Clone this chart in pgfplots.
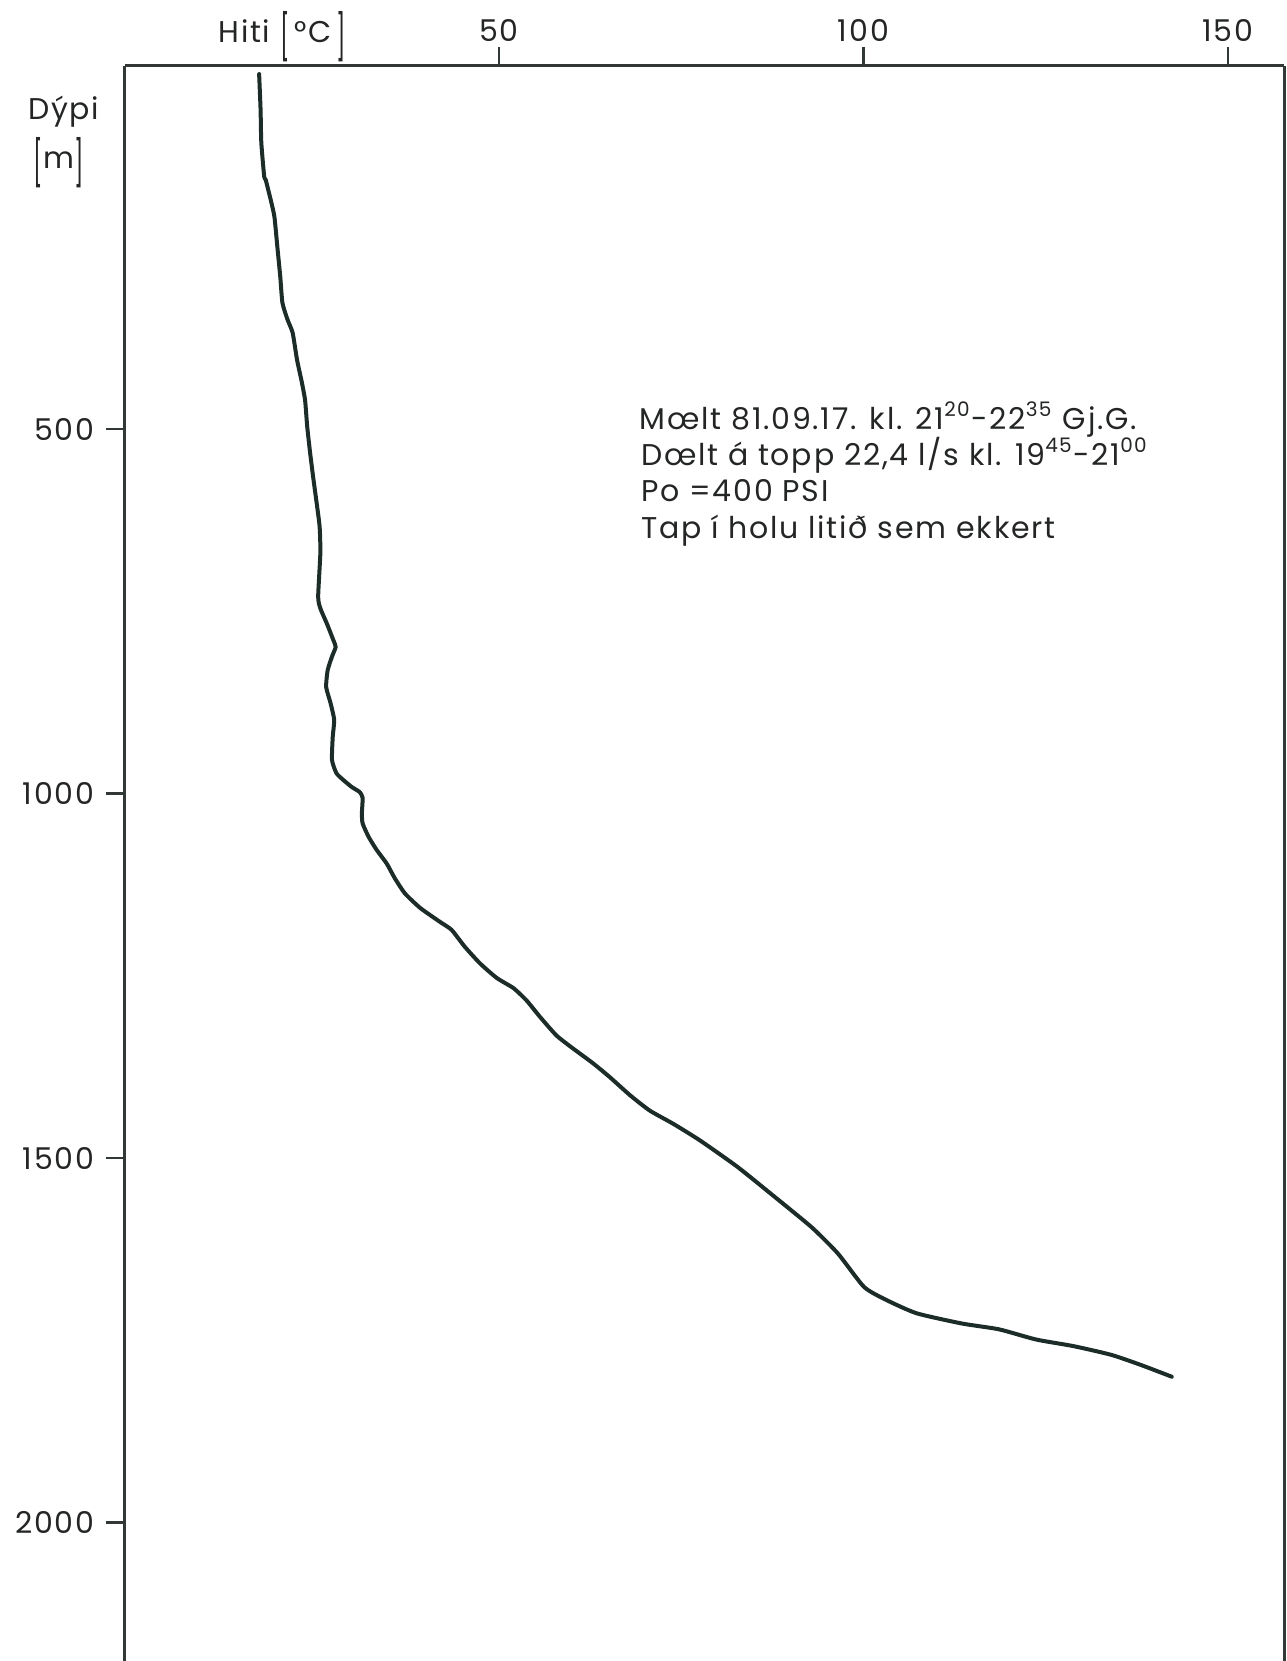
\documentclass[border=0pt]{standalone}
\usepackage{pgfplots}
\pgfplotsset{compat=1.18}
\usepackage{graphicx}
\usepackage{fontspec}
\setmainfont{Poppins}[LetterSpace=6]
\definecolor{ink}{RGB}{28,44,40}
\definecolor{axc}{RGB}{50,56,54}
\definecolor{txt}{RGB}{35,38,37}
\newcommand{\tb}[1]{\raisebox{-3.2pt}{\scalebox{0.75}[1.5]{#1}}}
\begin{document}
\begin{tikzpicture}
\begin{axis}[
  scale only axis, width=347.7pt, height=478.5pt,
  xmin=-1.3, xmax=157.7, ymin=2, ymax=2190,
  y dir=reverse,
  axis x line*=top, axis y line*=box,
  xtick={50,100,150}, ytick={500,1000,1500,2000},
  ytick pos=left,
  tick align=outside, major tick length=5.7pt,
  tick style={axc, line width=0.8pt},
  axis line style={axc, line width=0.9pt},
  ticklabel style={font=\fontsize{9}{10}\selectfont, text=txt},
  xticklabel style={yshift=-1.8pt},
  /pgf/number format/assume math mode=true,
  /pgf/number format/1000 sep={},
  clip=false,
]
\addplot[ink, line width=1.2pt, line join=round, line cap=round, smooth, tension=0.35] coordinates {
(17.1,13) (17.3,62) (17.4,107) (17.8,154) (18.0,158) (18.7,186) (19.2,209)
(19.6,250) (20.0,291) (20.3,327) (21.0,350) (21.7,368) (22.3,405) (22.9,433)
(23.4,460) (23.7,497) (24.1,533) (24.5,565) (25.0,602) (25.4,634) (25.5,670)
(25.2,730) (25.5,746) (26.4,767) (27.3,790) (27.6,799) (27.1,812) (26.5,831)
(26.3,854) (26.9,876) (27.4,899) (27.2,922) (27.1,954) (27.7,972) (28.6,981)
(29.8,991) (30.9,998) (31.3,1006) (31.2,1027) (31.3,1041) (32.1,1059) (33.2,1077)
(34.6,1096) (35.7,1116) (37.1,1137) (39.2,1157) (41.9,1176) (43.5,1187) (45.3,1210)
(47.4,1233) (49.7,1253) (52.0,1267) (53.8,1284) (55.6,1306) (57.9,1332) (60.2,1350)
(62.9,1370) (65.2,1389) (68.0,1414) (70.7,1435) (73.9,1453) (77.6,1476) (82.7,1512)
(87.3,1549) (92.9,1595) (96.5,1631) (100.1,1677) (103.2,1695) (107.3,1713)
(113.5,1727) (118.6,1735) (123.7,1749) (128.8,1758) (134.0,1770) (138.1,1784) (142.3,1800)
};
\node[anchor=base, font=\fontsize{9}{10}\selectfont, text=txt] at (axis cs:20.3,-30) {Hiti\ \tb{[}\,°C\,\tb{]}};
\node[anchor=base, font=\fontsize{9}{10}\selectfont, text=txt] at (axis cs:-9.7,76) {Dýpi};
\node[anchor=base, font=\fontsize{9}{10}\selectfont, text=txt] at (axis cs:-10.4,143) {\tb{[}m\tb{]}};
\begin{scope}[every node/.style={anchor=base west, font=\fontsize{9}{10}\selectfont, text=txt, inner sep=0pt}]
\node at (axis cs:69.2,500) {Mœlt 81.09.17. kl. 21\textsuperscript{20}-22\textsuperscript{35} Gj.G.};
\node at (axis cs:69.4,550) {Dœlt á topp 22,4 l/s kl. 19\textsuperscript{45}-21\textsuperscript{00}};
\node at (axis cs:69.4,600) {Po =400 PSI};
\node at (axis cs:69.4,650) {Tap í holu litið sem ekkert};
\end{scope}
\end{axis}
\pgfresetboundingbox
\path[use as bounding box] ([xshift=-37.5pt]current axis.south west) rectangle ([xshift=0.6pt,yshift=19.8pt]current axis.north east);
\end{tikzpicture}
\end{document}
